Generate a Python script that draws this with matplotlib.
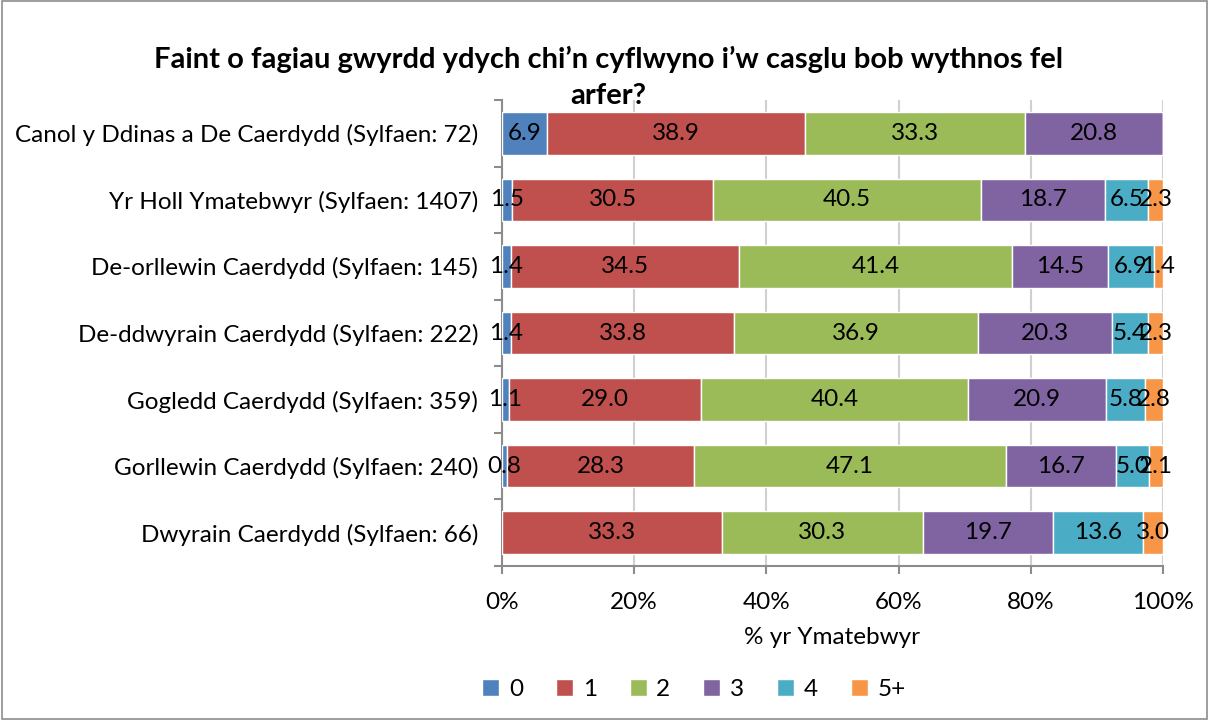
import matplotlib
matplotlib.use("Agg")
import matplotlib.pyplot as plt
from matplotlib.patches import Rectangle, Patch
import numpy as np

plt.rcParams['font.family'] = ['Lato', 'DejaVu Sans']

categories = [
    "Canol y Ddinas a De Caerdydd (Sylfaen: 72)",
    "Yr Holl Ymatebwyr (Sylfaen: 1407)",
    "De-orllewin Caerdydd (Sylfaen: 145)",
    "De-ddwyrain Caerdydd (Sylfaen: 222)",
    "Gogledd Caerdydd (Sylfaen: 359)",
    "Gorllewin Caerdydd (Sylfaen: 240)",
    "Dwyrain Caerdydd (Sylfaen: 66)",
]
series_names = ["0", "1", "2", "3", "4", "5+"]
s0 = [6.9, 1.5, 1.4, 1.4, 1.1, 0.8, 0.0]
s1 = [38.9, 30.5, 34.5, 33.8, 29.0, 28.3, 33.3]
s2 = [33.3, 40.5, 41.4, 36.9, 40.4, 47.1, 30.3]
s3 = [20.8, 18.7, 14.5, 20.3, 20.9, 16.7, 19.7]
s4 = [0.0, 6.5, 6.9, 5.4, 5.8, 5.0, 13.6]
s5 = [0.0, 2.3, 1.4, 2.3, 2.8, 2.1, 3.0]
colors = ["#4F81BD", "#C0504D", "#9BBB59", "#8064A2", "#4BACC6", "#F79646"]

title = "Faint o fagiau gwyrdd ydych chi\u2019n cyflwyno i\u2019w casglu bob wythnos fel\narfer?"
xlabel = "% yr Ymatebwyr"

FS = 17.5

fig = plt.figure(figsize=(12.09, 7.2), dpi=100)
ax = fig.add_axes([0.415, 0.214, 0.547, 0.647])

data = [s0, s1, s2, s3, s4, s5]
y = np.arange(len(categories))
left = np.zeros(len(categories))
tot = np.array([sum(d[i] for d in data) for i in range(len(categories))])
for name, vals, c in zip(series_names, data, colors):
    vals = np.array(vals)
    widths = vals / tot * 100
    ax.barh(y, widths, left=left, height=0.64, color=c, edgecolor="white",
            linewidth=1, label=name, zorder=3)
    for i, (w, v) in enumerate(zip(widths, vals)):
        if v > 0:
            ax.text(left[i] + w / 2, y[i], f"{v:.1f}", ha="center", va="center",
                    fontsize=FS, color="black", zorder=4)
    left += widths

ax.set_ylim(len(categories) - 0.5, -0.5)
ax.set_xlim(0, 100)
ax.set_xticks([0, 20, 40, 60, 80, 100])
ax.set_xticklabels(["0%", "20%", "40%", "60%", "80%", "100%"], fontsize=FS)
ax.set_yticks(y)
ax.set_yticklabels(categories, fontsize=FS)
ax.tick_params(axis="y", length=0, pad=17)
ax.set_yticks(np.arange(-0.5, len(categories), 1), minor=True)
ax.tick_params(axis="y", which="minor", length=6, color="#8C8C8C", width=1.5)
ax.tick_params(axis="x", length=6, color="#8C8C8C", width=1.5, pad=13)
ax.grid(axis="x", color="#D0D0D0", linewidth=1.5, zorder=0)
for sp in ["top", "right"]:
    ax.spines[sp].set_visible(False)
for sp in ["left", "bottom"]:
    ax.spines[sp].set_color("#8C8C8C")
    ax.spines[sp].set_linewidth(1.5)
ax.set_xlabel(xlabel, fontsize=FS, labelpad=10)

fig.text(0.503, 0.848, title, ha="center", va="bottom", fontsize=21,
         fontweight="bold", linespacing=1.5)

handles = [Patch(facecolor=c, edgecolor="white") for c in colors]
fig.legend(handles, series_names, loc="center", bbox_to_anchor=(0.574, 0.043),
           ncol=6, frameon=False, fontsize=FS, handlelength=0.7, handleheight=0.7,
           columnspacing=1.35, handletextpad=0.4)

fig.add_artist(Rectangle((0.002, 0.002), 0.996, 0.996, transform=fig.transFigure,
                         fill=False, edgecolor="#8C8C8C", linewidth=1.2))

fig.savefig("out.png", dpi=100)
